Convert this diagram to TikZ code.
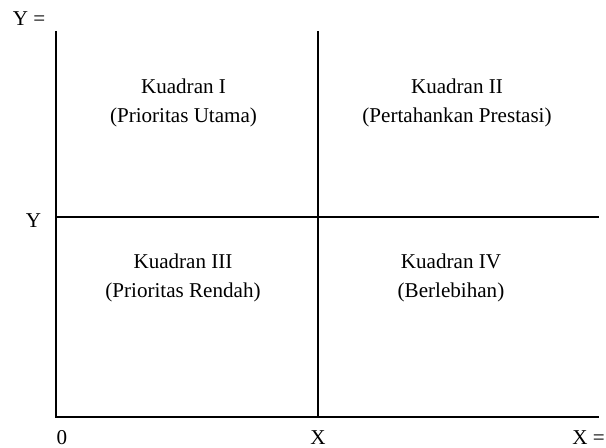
\documentclass[tikz,border=0pt]{standalone}
\usepackage{fontspec}
\setmainfont{Liberation Serif}
\usepackage{tikz}
\usetikzlibrary{positioning}

\begin{document}
\begin{tikzpicture}[line width=1.1pt,
        kuadran/.style={align=center,font=\fontsize{12}{17}\selectfont},
        lbl/.style={anchor=base,font=\fontsize{12}{14}\selectfont}]
        \useasboundingbox (0,0) rectangle (12.12,8.96);

        % corner points
        \coordinate (O) at (1.12,0.62);
        \coordinate (ytop) at (1.12,8.34);
        \coordinate (xend) at (11.98,0.62);
        \coordinate (midtop) at (6.36,8.34);
        \coordinate (midbot) at (6.36,0.62);
        \coordinate (midl) at (1.12,4.62);
        \coordinate (midr) at (11.98,4.62);

        % axis
        \draw (ytop) -- (O) -- (xend);

        % quadrant lines
        \draw (midtop) -- (midbot);
        \draw (midl) -- (midr);

        % axis labels
        \node[lbl] (ylab) at (0.58,8.44) {Y =};
        \node[lbl] (ymid) at (0.67,4.40) {Y};
        \node[lbl] (zero) at (1.24,0.06) {0};
        \node[lbl] (xmid) at (6.36,0.06) {X};
        \node[lbl] (xlab) at (11.77,0.06) {X =};

        % quadrants
        \node[kuadran] (k1) at (3.67,6.90) {Kuadran I\\(Prioritas Utama)};
        \node[kuadran] (k2) at (9.14,6.90) {Kuadran II\\(Pertahankan Prestasi)};
        \node[kuadran] (k3) at (3.66,3.40) {Kuadran III\\(Prioritas Rendah)};
        \node[kuadran] (k4) at (9.02,3.40) {Kuadran IV\\(Berlebihan)};
\end{tikzpicture}
\end{document}
